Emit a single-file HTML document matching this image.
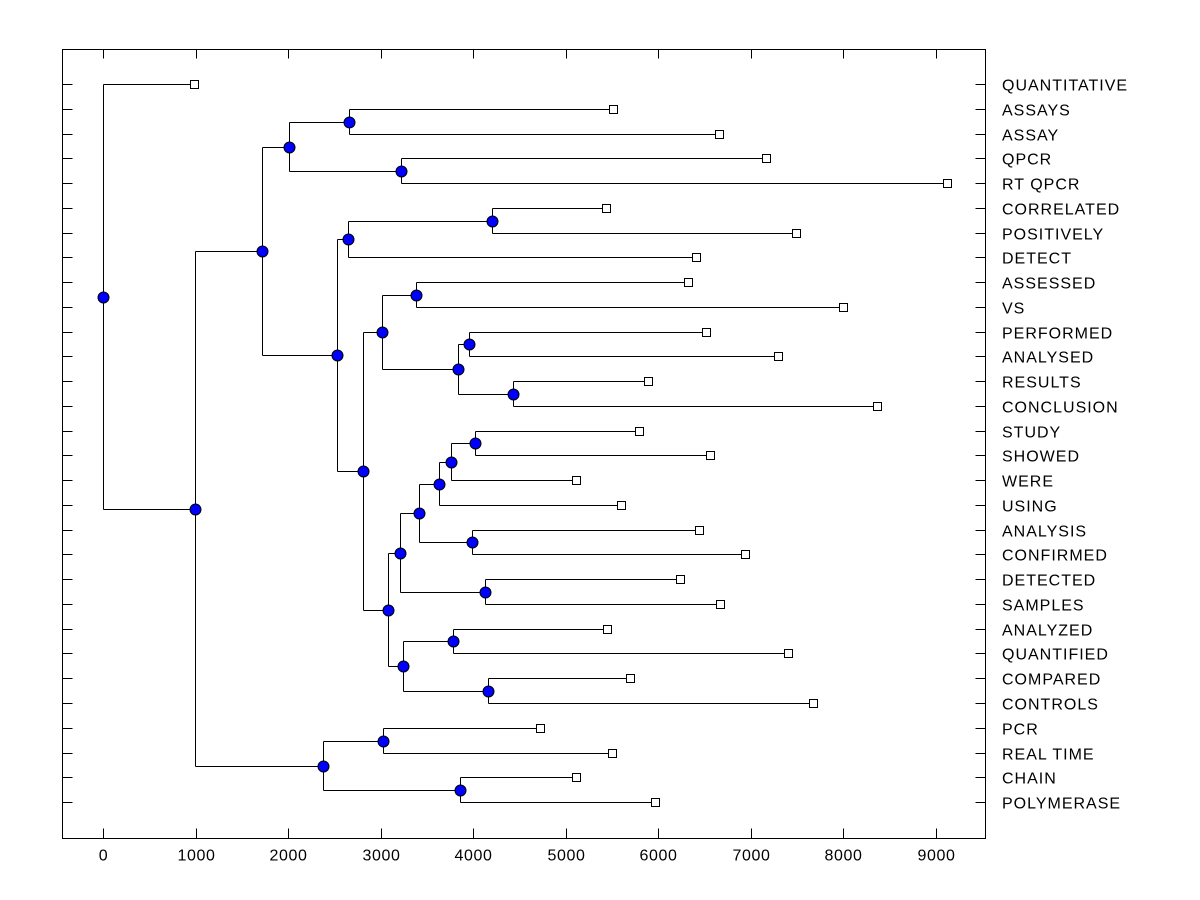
<!DOCTYPE html>
<html><head><meta charset="utf-8"><style>
html,body{margin:0;padding:0;background:#fff;}
svg{display:block;font-family:"Liberation Sans",Arial,sans-serif;}
</style></head><body>
<svg id="chart" width="1200" height="900"></svg>
<script>
const labels=["QUANTITATIVE","ASSAYS","ASSAY","QPCR","RT QPCR","CORRELATED","POSITIVELY","DETECT","ASSESSED","VS","PERFORMED","ANALYSED","RESULTS","CONCLUSION","STUDY","SHOWED","WERE","USING","ANALYSIS","CONFIRMED","DETECTED","SAMPLES","ANALYZED","QUANTIFIED","COMPARED","CONTROLS","PCR","REAL TIME","CHAIN","POLYMERASE"];
const leafValues=[980,5510,6660,7160,9120,5430,7490,6410,6320,8000,6520,7290,5890,8360,5790,6560,5110,5600,6440,6940,6230,6670,5440,7400,5690,7670,4720,5500,5110,5960];
// merges: [childA, childB, height]; leaves 0..29, internal nodes 30+
const merges=[
[1,2,2660],      //30
[3,4,3220],      //31
[30,31,2010],    //32
[5,6,4200],      //33
[33,7,2640],     //34
[8,9,3380],      //35
[10,11,3950],    //36
[12,13,4430],    //37
[36,37,3835],    //38
[35,38,3010],    //39
[14,15,4020],    //40
[40,16,3760],    //41
[41,17,3630],    //42
[18,19,3990],    //43
[42,43,3410],    //44
[20,21,4125],    //45
[44,45,3210],    //46
[22,23,3780],    //47
[24,25,4160],    //48
[47,48,3240],    //49
[46,49,3080],    //50
[39,50,2810],    //51
[34,51,2530],    //52
[32,52,1715],    //53
[26,27,3020],    //54
[28,29,3855],    //55
[54,55,2375],    //56
[53,56,990],     //57
[0,57,0]         //58
];
const xTicks=[0,1000,2000,3000,4000,5000,6000,7000,8000,9000];

const NS="http://www.w3.org/2000/svg";
const svg=document.getElementById('chart');
const L=62.5,R=985.5,T=49.5,B=838.5;
const xs=v=>Math.round(103.3+v*0.0925)+0.5;
const ys=i=>Math.round(84+i*24.76)+0.5;
function mk(tag,attrs,parent){const e=document.createElementNS(NS,tag);for(const k in attrs)e.setAttribute(k,attrs[k]);(parent||svg).appendChild(e);return e;}

const frame=mk('rect',{x:L,y:T,width:R-L,height:B-T,fill:'none',stroke:'#000','stroke-width':1,'shape-rendering':'crispEdges'});



const xAxis=mk('g',{'shape-rendering':'crispEdges'});


xTicks.forEach(v=>{
  const x=xs(v);
  mk('line',{x1:x,y1:B,x2:x,y2:B-10,stroke:'#000'},xAxis);
  mk('line',{x1:x,y1:T,x2:x,y2:T+9,stroke:'#000'},xAxis);
  const t=mk('text',{x:x,y:B+22,'text-anchor':'middle','font-size':16,'letter-spacing':0.6,fill:'#000'},xAxis);
  t.textContent=v;
  
  
});

const yAxis=mk('g',{'shape-rendering':'crispEdges'});


labels.forEach((lab,i)=>{
  const y=ys(i);
  mk('line',{x1:L,y1:y,x2:L+10,y2:y,stroke:'#000'},yAxis);
  mk('line',{x1:R-10,y1:y,x2:R,y2:y,stroke:'#000'},yAxis);
  const t=mk('text',{x:1002,y:y+6,'font-size':16,'letter-spacing':1,fill:'#000'},yAxis);
  t.textContent=lab;
  
  
});

// compute positions
const nx=[],ny=[];
leafValues.forEach((v,i)=>{nx[i]=xs(v);ny[i]=ys(i);});
merges.forEach((m,k)=>{const id=labels.length+k;nx[id]=xs(m[2]);ny[id]=Math.round((ny[m[0]]+ny[m[1]])/2-0.5)+0.5;});

const links=mk('g',{stroke:'#000','stroke-width':1,fill:'none','shape-rendering':'crispEdges'});


merges.forEach((m,k)=>{
  const id=labels.length+k;
  const x=nx[id];
  mk('line',{x1:x,y1:ny[m[0]],x2:x,y2:ny[m[1]]},links);
  [m[0],m[1]].forEach(c=>mk('line',{x1:x,y1:ny[c],x2:nx[c],y2:ny[c]},links));
});

leafValues.forEach((v,i)=>{
  const r=mk('rect',{x:nx[i]-4,y:ny[i]-4,width:8,height:8,fill:'#fff',stroke:'#000','stroke-width':1,'shape-rendering':'crispEdges'});
  
  
});
merges.forEach((m,k)=>{
  const id=labels.length+k;
  const c=mk('circle',{cx:nx[id],cy:ny[id],r:5.5,fill:'#0000ff',stroke:'#000','stroke-width':1});
  
  
});
</script>
</body></html>
